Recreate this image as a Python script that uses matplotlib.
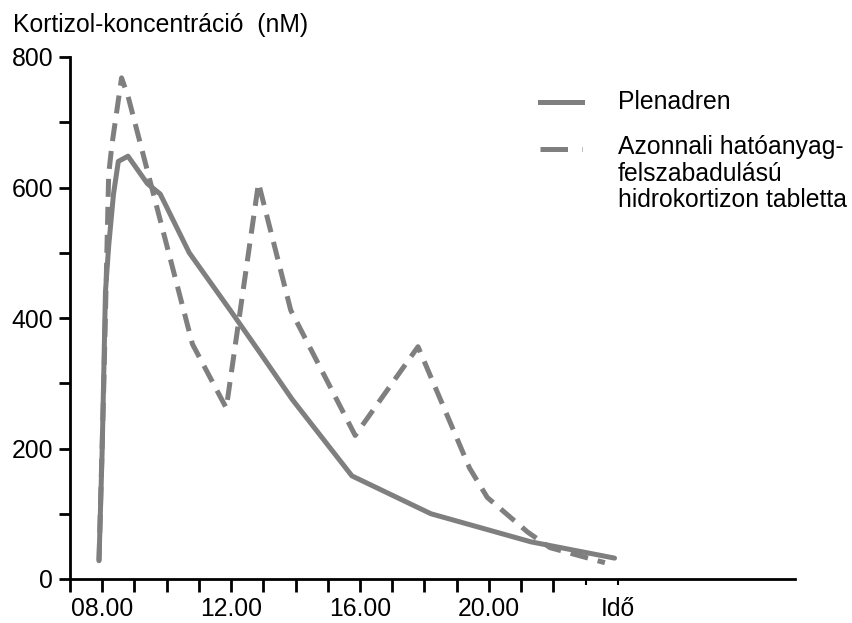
import matplotlib.pyplot as plt
from matplotlib.lines import Line2D

plt.rcParams['font.family'] = ['Liberation Sans', 'DejaVu Sans']

# hours of the day (decimal) and cortisol concentration in nM
plen_t = [7.9, 8.0, 8.1, 8.2, 8.35, 8.5, 8.8, 9.4, 9.8, 10.7, 12.0, 12.85, 13.9, 15.75, 18.2, 21.3, 23.9]
plen_c = [28, 200, 440, 510, 590, 640, 648, 606, 590, 500, 410, 350, 275, 158, 100, 57, 32]

hc_t = [7.9, 8.05, 8.2, 8.3, 8.6, 8.8, 10.8, 11.85, 12.85, 13.85, 15.85, 17.8, 19.4, 19.95, 21.2, 21.9, 23.6]
hc_c = [28, 300, 620, 665, 768, 740, 360, 262, 607, 412, 220, 356, 170, 125, 72, 48, 25]

hour_ticks = list(range(7, 23))
hour_labels = {8: '08.00', 12: '12.00', 16: '16.00', 20: '20.00'}
conc_ticks = list(range(0, 801, 100))

grey = '#7f7f7f'
fs = 17.8

fig = plt.figure(figsize=(8.52, 6.23), dpi=100)
ax = fig.add_axes([70/852, 44/623, 725/852, 522/623])

ax.plot(plen_t, plen_c, color=grey, lw=3.6, solid_joinstyle='round', solid_capstyle='round')
ax.plot(hc_t, hc_c, color=grey, lw=3.6, ls=(0, (3.6, 2.0)), dash_capstyle='butt')

ax.set_xlim(7, 29.5)
ax.set_ylim(0, 800)
for s in ['top', 'right']:
    ax.spines[s].set_visible(False)
for s in ['left', 'bottom']:
    ax.spines[s].set_linewidth(2.0)

ax.set_xticks(hour_ticks)
ax.set_xticklabels([hour_labels.get(h, '') for h in hour_ticks])
ax.set_xticks([23, 24], minor=True)
ax.tick_params(axis='x', which='major', length=9, width=2.0, pad=4, labelsize=fs)
ax.tick_params(axis='x', which='minor', length=4, width=1.5)
ax.set_yticks(conc_ticks)
ax.set_yticklabels([str(c) if c % 200 == 0 else '' for c in conc_ticks])
ax.tick_params(axis='y', length=8, width=2.0, pad=4, labelsize=fs)

ax.text(24, -0.035, 'Idő', transform=ax.get_xaxis_transform(), ha='center', va='top', fontsize=fs)
fig.text(13/852, 1 - 32/623, 'Kortizol-koncentráció  (nM)', ha='left', va='baseline', fontsize=fs)

# legend drawn by hand so the dashed handle sits on the first text line
ax.add_line(Line2D([0.648, 0.706], [0.914, 0.914], transform=ax.transAxes, color=grey, lw=3.6))
ax.add_line(Line2D([0.648, 0.706], [0.824, 0.824], transform=ax.transAxes, color=grey, lw=3.6,
                   ls=(0, (5.5, 2.8))))
ax.text(0.756, 0.914, 'Plenadren', transform=ax.transAxes, va='center', fontsize=fs)
ax.text(0.756, 0.850, 'Azonnali hatóanyag-\nfelszabadulású\nhidrokortizon tabletta',
        transform=ax.transAxes, va='top', fontsize=fs, linespacing=1.13)

fig.savefig('out.png', dpi=100)
